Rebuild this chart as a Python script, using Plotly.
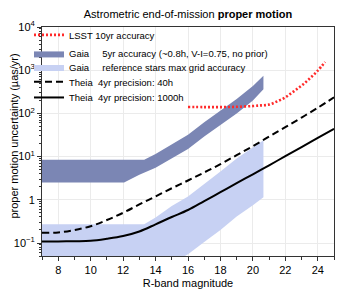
import math
import plotly.graph_objects as go

# ---------------- data ----------------
theia_mag = [7, 8, 9, 10, 11, 12, 13, 14, 15, 16, 17, 18, 19, 20, 21, 22, 23, 24, 25]
theia_40h = [0.172, 0.175, 0.20, 0.245, 0.34, 0.50, 0.78, 1.2, 1.85, 2.8, 4.3, 6.7,
             10.8, 17.5, 29, 48, 80, 135, 235]
theia_1000h = [0.109, 0.109, 0.110, 0.112, 0.125, 0.145, 0.185, 0.27, 0.40, 0.58, 0.93,
               1.5, 2.43, 3.9, 6.3, 10.2, 16.5, 27, 44]

lsst_mag = [16, 17, 18, 19, 20, 20.5, 21, 21.5, 22, 22.5, 23, 23.5, 24, 24.45]
lsst_pm = [141, 140, 140, 142, 148, 153, 160, 190, 235, 320, 440, 640, 980, 1550]

gaia_upper_mag = [7, 13.3, 14, 15, 16, 17, 18, 19, 20, 20.65]
gaia_upper = [8.4, 8.4, 11.5, 19, 32, 62, 115, 215, 430, 740]
gaia_lower_mag = [7, 12.06, 13, 14, 15, 16, 17, 18, 19, 20, 20.65]
gaia_lower = [2.5, 2.5, 3.8, 5.5, 9, 15, 29, 55, 100, 200, 360]

ref_upper_mag = [7, 13.3, 14, 15, 16, 17, 18, 19, 20, 20.65]
ref_upper = [0.27, 0.27, 0.39, 0.72, 1.2, 2.3, 4.5, 9.0, 16, 24]
ref_lower_mag = [7, 13.3, 14, 15, 16, 17, 18, 19, 20, 20.65]
ref_lower = [0.012, 0.012, 0.018, 0.033, 0.055, 0.105, 0.2, 0.41, 0.75, 1.15]

x_ticks = [8, 10, 12, 14, 16, 18, 20, 22, 24]
x_minor = [7, 9, 11, 13, 15, 17, 19, 21, 23, 25]
y_ticks = [0.1, 1, 10, 100, 1000, 10000]
y_ticktext = ["10<sup>\u22121</sup>", "1", "10<sup>1</sup>", "10<sup>2</sup>",
              "10<sup>3</sup>", "10<sup>4</sup>"]
y_minor = [k * 10 ** e for e in range(-2, 4) for k in range(2, 10)
           if 0.05 <= k * 10 ** e <= 10000]

names = [
    "LSST 10yr accuracy",
    "Gaia\u00a0\u00a0\u00a0\u00a0 5yr accuracy (~0.8h, V-I=0.75, no prior)",
    "Gaia\u00a0\u00a0\u00a0\u00a0 reference stars max grid accuracy",
    "Theia\u00a0 4yr precision: 40h",
    "Theia\u00a0 4yr precision: 1000h",
]

DARK = "#7b86b4"
LIGHT = "#c7d1f3"
RED = "#ff2a2a"
FONT = "Liberation Sans, Arial, Helvetica, sans-serif"


def band(mu, vu, ml, vl):
    return list(mu) + list(reversed(ml)), list(vu) + list(reversed(vl))


fig = go.Figure()

bx, by = band(ref_upper_mag, ref_upper, ref_lower_mag, ref_lower)
fig.add_trace(go.Scatter(x=bx, y=by, mode="lines", fill="toself", fillcolor=LIGHT,
                         line=dict(width=0, color=LIGHT), name=names[2],
                         legend="legend3", hoverinfo="skip"))
bx, by = band(gaia_upper_mag, gaia_upper, gaia_lower_mag, gaia_lower)
fig.add_trace(go.Scatter(x=bx, y=by, mode="lines", fill="toself", fillcolor=DARK,
                         line=dict(width=0, color=DARK), name=names[1],
                         legend="legend2", hoverinfo="skip"))
fig.add_trace(go.Scatter(x=lsst_mag, y=lsst_pm, mode="lines", name=names[0],
                         line=dict(color=RED, width=2.6, dash="2px,2px", shape="spline"),
                         legend="legend"))
fig.add_trace(go.Scatter(x=theia_mag, y=theia_40h, mode="lines", name=names[3],
                         line=dict(color="black", width=2, dash="7px,4px", shape="spline"),
                         legend="legend4"))
fig.add_trace(go.Scatter(x=theia_mag, y=theia_1000h, mode="lines", name=names[4],
                         line=dict(color="black", width=2, shape="spline"),
                         legend="legend5"))

# page body has an 8px default margin: compensate so the plot sits at page px 42..334 / 22..256
OFF = 8
W, H = 349, 291
PL, PT, PW, PH = 42, 22, 292, 234          # plot area in page pixels
L, T = PL - OFF, PT - OFF
R, B = W - L - PW, H - T - PH


def px_x(x):  # page px -> paper x
    return (x - PL) / PW


def px_y(y):  # page px -> paper y
    return (PT + PH - y) / PH


def leg(py):
    return dict(x=px_x(29), xanchor="left", y=px_y(py), yanchor="middle",
                bgcolor="rgba(0,0,0,0)", borderwidth=0, itemwidth=30,
                font=dict(family=FONT, size=9.5, color="black"))


AX = "#333333"
GRID = "#ebebeb"

fig.update_layout(
    width=W, height=H,
    margin=dict(l=L, r=R, t=T, b=B, pad=0),
    paper_bgcolor="white", plot_bgcolor="white",
    font=dict(family=FONT, size=11, color="black"),
    title=dict(text="Astrometric end-of-mission <b>proper motion</b>",
               x=0.5, xref="paper", xanchor="center",
               y=1 - (14 - OFF) / H, yref="container", yanchor="middle",
               font=dict(family=FONT, size=11, color="black")),
    showlegend=True,
    legend=leg(30), legend2=leg(49), legend3=leg(63), legend4=leg(78), legend5=leg(94),
    xaxis=dict(range=[7, 25], tickmode="array", tickvals=x_ticks,
               ticks="outside", ticklen=4, tickcolor=AX, tickwidth=1,
               minor=dict(tickvals=x_minor, ticks="outside", ticklen=2.5, tickcolor=AX,
                          showgrid=False),
               showgrid=True, gridcolor=GRID, gridwidth=1, zeroline=False,
               showline=True, linecolor=AX, linewidth=1, mirror=True,
               title=dict(text="R-band magnitude", standoff=4,
                          font=dict(family=FONT, size=11)),
               tickfont=dict(family=FONT, size=11), automargin=False),
    yaxis=dict(type="log", range=[math.log10(0.05), 4], tickmode="array",
               tickvals=y_ticks, ticktext=y_ticktext,
               ticks="outside", ticklen=4, tickcolor=AX, tickwidth=1,
               minor=dict(tickvals=y_minor, ticks="outside", ticklen=2.5, tickcolor=AX,
                          showgrid=False),
               showgrid=True, gridcolor=GRID, gridwidth=1, zeroline=False,
               showline=True, linecolor=AX, linewidth=1, mirror=True,
               tickfont=dict(family=FONT, size=11), automargin=False),
    xaxis2=dict(range=[7, 25], overlaying="x", side="top", anchor="y",
                tickmode="array", tickvals=x_ticks, ticks="inside", ticklen=4,
                tickcolor=AX, showticklabels=False, showgrid=False, zeroline=False,
                showline=False,
                minor=dict(tickvals=x_minor, ticks="inside", ticklen=2.5, tickcolor=AX,
                           showgrid=False)),
    yaxis2=dict(type="log", range=[math.log10(0.05), 4], overlaying="y", side="right",
                anchor="x", tickmode="array", tickvals=y_ticks, ticks="inside",
                ticklen=4, tickcolor=AX, showticklabels=False, showgrid=False,
                zeroline=False, showline=False,
                minor=dict(tickvals=y_minor, ticks="inside", ticklen=2.5, tickcolor=AX,
                           showgrid=False)),
    annotations=[dict(text="proper motion uncertainty (\u00b5as/yr)", textangle=-90,
                      xref="paper", yref="paper", x=px_x(14), y=px_y(134),
                      xanchor="center", yanchor="middle", showarrow=False,
                      font=dict(family=FONT, size=11, color="black"))],
)

fig.write_html("out.html")
